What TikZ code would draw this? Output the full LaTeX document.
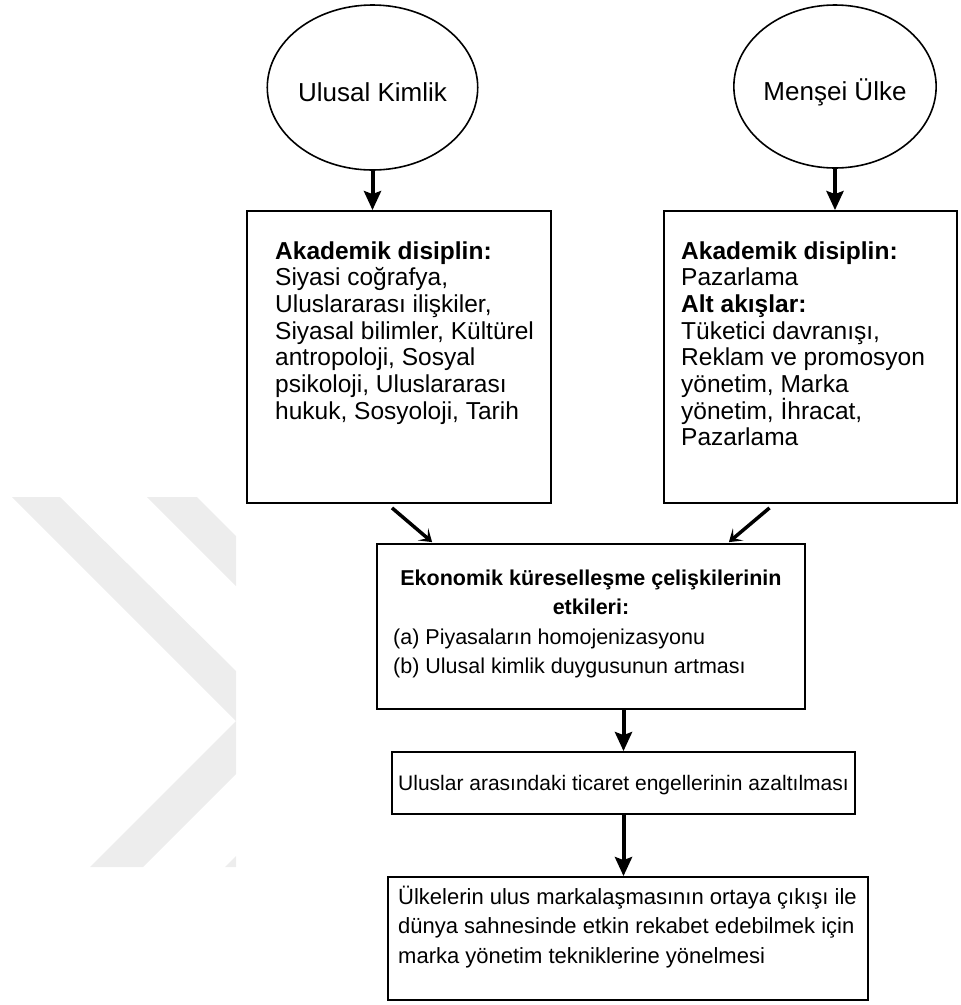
\documentclass[tikz,border=0pt]{standalone}
\usepackage{fontspec}
\setmainfont{Liberation Sans}
\usetikzlibrary{shapes.geometric,arrows.meta,calc}
\definecolor{wmark}{RGB}{237,237,237}
\begin{document}
\begin{tikzpicture}[x=1pt,y=-1pt,
  boxnode/.style={draw, line width=1.8pt, inner sep=0pt, fill=white},
  circ/.style={draw, ellipse, line width=1.6pt, inner sep=0pt, fill=white,
    font=\fontsize{26}{30}\selectfont, text height=28pt, text depth=0pt},
  txt/.style={inner sep=0pt, align=left, anchor=base west},
  ctxt/.style={inner sep=0pt, align=center, anchor=base},
  varr/.style={line width=4pt, -{Stealth[length=19pt,width=17pt,inset=3pt]}},
  darr/.style={line width=3.5pt, -{Stealth[length=12pt,width=16pt,inset=6pt]}},
]
\useasboundingbox (0,0) rectangle (961,1005);
% watermark
\fill[wmark] (12,497) -- (60,497) -- (236,671) -- (236,774) -- (143,867) -- (90,867) -- (236,721) -- cycle;
\fill[wmark] (147,497) -- (197,497) -- (236,536) -- (236,586) -- cycle;
\fill[wmark] (225,867) -- (236,867) -- (236,856) -- cycle;

% circles
\node[circ, minimum width=189pt, minimum height=165pt] (c1) at (372.5,87.5) {Ulusal Kimlik};
\node[circ, minimum width=186pt, minimum height=163pt] (c2) at (835,86.5) {Menşei Ülke};

% boxes
\node[boxnode, minimum width=304pt, minimum height=292pt] (b1) at (399,357) {};
\node[boxnode, minimum width=293pt, minimum height=292pt] (b2) at (810.5,357) {};
\node[boxnode, minimum width=428pt, minimum height=165pt] (mid) at (591,626.5) {};
\node[boxnode, minimum width=463pt, minimum height=62pt] (ul) at (623.5,783) {};
\node[boxnode, minimum width=480pt, minimum height=123pt] (last) at (628,938.5) {};

% texts (base anchor = baseline of the last line)
\node[txt, font=\fontsize{24.5}{26.7}\selectfont] (t1) at (275,419.2)
 {\textbf{Akademik disiplin:}\\Siyasi coğrafya,\\Uluslararası ilişkiler,\\Siyasal bilimler, Kültürel\\antropoloji, Sosyal\\psikoloji, Uluslararası\\hukuk, Sosyoloji, Tarih};
\node[txt, font=\fontsize{24.5}{26.7}\selectfont] (t2) at (681,445.9)
 {\textbf{Akademik disiplin:}\\Pazarlama\\\textbf{Alt akışlar:}\\Tüketici davranışı,\\Reklam ve promosyon\\yönetim, Marka\\yönetim, İhracat,\\Pazarlama};
\node[ctxt, font=\fontsize{21.5}{29.7}\selectfont\bfseries] (t3) at (591,614.7)
 {Ekonomik küreselleşme çelişkilerinin\\etkileri:};
\node[txt, font=\fontsize{21.5}{29}\selectfont] (t4) at (393,673)
 {(a) Piyasaların homojenizasyonu\\(b) Ulusal kimlik duygusunun artması};
\node[ctxt, font=\fontsize{21}{25}\selectfont] (t5) at (623.5,790)
 {Uluslar arasındaki ticaret engellerinin azaltılması};
\node[txt, font=\fontsize{22}{29.5}\selectfont] (t6) at (398,963)
 {Ülkelerin ulus markalaşmasının ortaya çıkışı ile\\dünya sahnesinde etkin rekabet edebilmek için\\marka yönetim tekniklerine yönelmesi};

% arrows
\draw[varr] (c1.south) -- (c1.south |- b1.north);
\draw[varr] (c2.south) -- (c2.south |- b2.north);
\draw[darr] ($(b1.south)+(-7,4)$) -- ($(mid.north west)+(56,-1)$);
\draw[darr] ($(b2.south)+(-41,4)$) -- ($(mid.north east)+(-77,-1)$);
\draw[varr] (ul.north |- mid.south) -- (ul.north);
\draw[varr] (ul.south) -- (ul.south |- last.north);
\end{tikzpicture}
\end{document}
